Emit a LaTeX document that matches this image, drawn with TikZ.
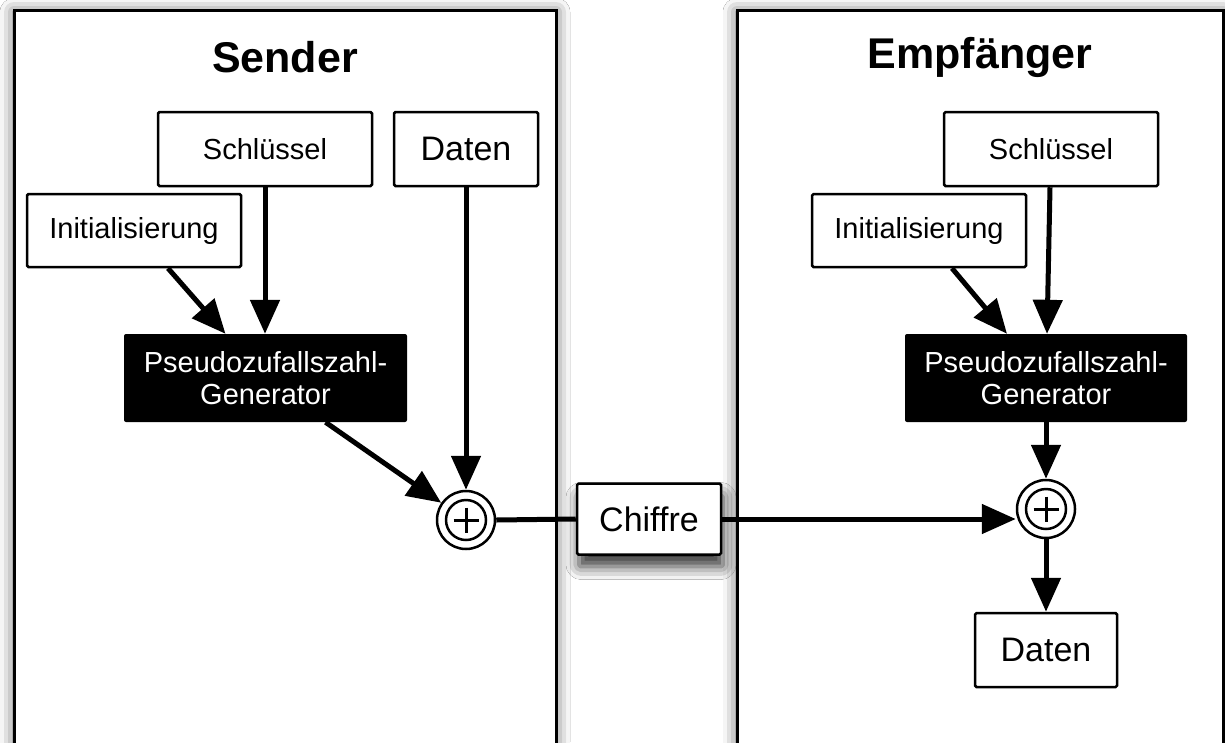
\documentclass[tikz,border=0pt]{standalone}
\usepackage{fontspec}
\setmainfont{Liberation Sans}
\usetikzlibrary{arrows.meta,shadows.blur}
\tikzset{
  panel/.style={draw, line width=3pt, fill=white, blur shadow={shadow xshift=0pt, shadow yshift=-2pt, shadow blur radius=14pt, shadow opacity=65}},
  wbox/.style={draw, line width=2.5pt, fill=white, rounded corners=1.5pt, inner sep=0pt, font=\fontsize{29}{32}\selectfont},
  bigbox/.style={wbox, font=\fontsize{34}{38}\selectfont},
  bbox/.style={fill=black, rounded corners=2pt, inner sep=0pt, text=white, align=center, font=\fontsize{29}{32}\selectfont},
  xorc/.style={draw, circle, line width=2.5pt, minimum size=58pt, inner sep=0pt, fill=white},
  arr/.style={line width=5pt, draw opacity=1, fill opacity=1, -{Triangle[length=34pt,width=29pt,fill=black]}},
  conn/.style={line width=5pt, draw opacity=1},
  title/.style={font=\bfseries\fontsize{43}{48}\selectfont}
}
\newcommand{\xorsign}[1]{%
  \draw[line width=2.5pt] (#1) circle (20pt);
  \draw[line width=3pt] (#1.center) +(-12.5,0) -- +(12.5,0);
  \draw[line width=3pt] (#1.center) +(0,-12.5) -- +(0,12.5);
}
\begin{document}
\begin{tikzpicture}[x=1pt,y=-1pt]
\useasboundingbox (0,0) rectangle (1225,742);
\clip (0,0) rectangle (1225,742);
\fill[white] (0,0) rectangle (1225,742);
% panels
\begin{scope}
\path[panel] (14,10) rectangle (556,800);
\end{scope}
\begin{scope}
\path[panel] (737,10) rectangle (1223,800);
\end{scope}
% titles
\node[title] (t1) at (285,57) {Sender};
\node[title] (t2) at (980,57) {Empfänger};
% sender
\node[wbox, minimum width=214pt, minimum height=74pt] (skey1) at (265,149) {Schlüssel};
\node[bigbox, minimum width=144pt, minimum height=74pt] (daten1) at (466,149) {Daten};
\node[wbox, minimum width=214pt, minimum height=73pt] (init1) at (134,230.5) {Initialisierung};
\node[bbox, minimum width=283pt, minimum height=88pt] (prng1) at (265.5,378) {Pseudozufallszahl-\\Generator};
\node[xorc] (xor1) at (466,520) {};
\xorsign{xor1}
% chiffre
\begin{scope}
\node[bigbox, minimum width=144pt, minimum height=71pt, blur shadow={shadow xshift=2pt, shadow yshift=-12pt, shadow blur radius=13pt, shadow opacity=80}] (chiffre) at (649,519) {Chiffre};
\end{scope}
% receiver
\node[wbox, minimum width=214pt, minimum height=74pt] (skey2) at (1051,149) {Schlüssel};
\node[wbox, minimum width=214pt, minimum height=73pt] (init2) at (919,230.5) {Initialisierung};
\node[bbox, minimum width=282pt, minimum height=88pt] (prng2) at (1046,378) {Pseudozufallszahl-\\Generator};
\node[xorc] (xor2) at (1046,509) {};
\xorsign{xor2}
\node[bigbox, minimum width=142pt, minimum height=74pt] (daten2) at (1046,650) {Daten};
% sender connectors
\draw[arr] (skey1.south) -- (skey1.south |- prng1.north);
\draw[arr] ([xshift=34pt]init1.south) -- ([xshift=-40pt]prng1.north);
\draw[arr] ([xshift=60pt]prng1.south) -- (xor1);
\draw[arr] (daten1.south) -- (xor1.north);
\draw[conn] (xor1.east) -- (chiffre.west);
% receiver connectors
\draw[arr] (chiffre.east) -- (chiffre.east -| xor2.west);
\draw[arr] ([xshift=-1pt]skey2.south) -- ([xshift=1pt]prng2.north);
\draw[arr] ([xshift=33pt]init2.south) -- ([xshift=-39pt]prng2.north);
\draw[arr] (prng2.south) -- (xor2.north);
\draw[arr] (xor2.south) -- (daten2.north);
\end{tikzpicture}
\end{document}
